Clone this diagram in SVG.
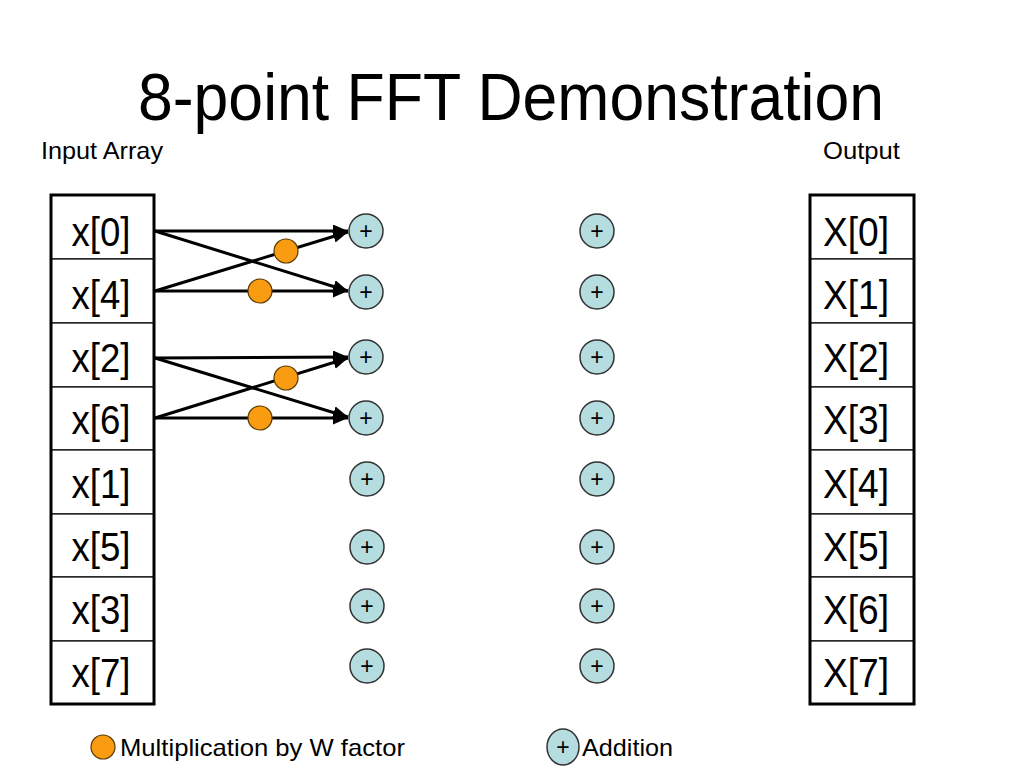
<svg xmlns="http://www.w3.org/2000/svg" width="1024" height="768" viewBox="0 0 1024 768">
<defs>
<style>
text{font-family:"Liberation Sans",Arial,Helvetica,sans-serif;fill:#000}
.cell{fill:#fff;stroke:#000;stroke-width:1.2}
.frame{fill:none;stroke:#000;stroke-width:3}
.ct{font-size:41px;text-anchor:middle}
.add{fill:#b5dde0;stroke:#333;stroke-width:1.5}
.pl{font-size:23px;text-anchor:middle}
.mul{fill:#f99c12;stroke:#5a3a00;stroke-width:1.2}
.wire{stroke:#000;stroke-width:3;fill:none}
.lbl{font-size:24px}
</style>
<marker id="ah" markerUnits="userSpaceOnUse" markerWidth="16" markerHeight="14" refX="15" refY="6.5" orient="auto">
<path d="M0,0 L15,6.5 L0,13 z" fill="#000"/>
</marker>
</defs>
<rect width="1024" height="768" fill="#fff"/>
<text x="511" y="120" font-size="66" text-anchor="middle" textLength="746" lengthAdjust="spacingAndGlyphs">8-point FFT Demonstration</text>
<text class="lbl" x="41" y="159" textLength="122" lengthAdjust="spacingAndGlyphs">Input Array</text>
<text class="lbl" x="823" y="159" textLength="77" lengthAdjust="spacingAndGlyphs">Output</text>

<g id="input">
<rect class="cell" x="51" y="195" width="103" height="64"/>
<rect class="cell" x="51" y="259" width="103" height="64"/>
<rect class="cell" x="51" y="323" width="103" height="64"/>
<rect class="cell" x="51" y="387" width="103" height="63"/>
<rect class="cell" x="51" y="450" width="103" height="64"/>
<rect class="cell" x="51" y="514" width="103" height="63"/>
<rect class="cell" x="51" y="577" width="103" height="64"/>
<rect class="cell" x="51" y="641" width="103" height="63"/>
<rect class="frame" x="51" y="195" width="103" height="509"/>
<text class="ct" x="101" y="246" textLength="59" lengthAdjust="spacingAndGlyphs">x[0]</text>
<text class="ct" x="101" y="309" textLength="59" lengthAdjust="spacingAndGlyphs">x[4]</text>
<text class="ct" x="101" y="372" textLength="59" lengthAdjust="spacingAndGlyphs">x[2]</text>
<text class="ct" x="101" y="434" textLength="59" lengthAdjust="spacingAndGlyphs">x[6]</text>
<text class="ct" x="101" y="498" textLength="59" lengthAdjust="spacingAndGlyphs">x[1]</text>
<text class="ct" x="101" y="561" textLength="59" lengthAdjust="spacingAndGlyphs">x[5]</text>
<text class="ct" x="101" y="624" textLength="59" lengthAdjust="spacingAndGlyphs">x[3]</text>
<text class="ct" x="101" y="687" textLength="59" lengthAdjust="spacingAndGlyphs">x[7]</text>
</g>

<g id="output">
<rect class="cell" x="810" y="195" width="104" height="64"/>
<rect class="cell" x="810" y="259" width="104" height="64"/>
<rect class="cell" x="810" y="323" width="104" height="64"/>
<rect class="cell" x="810" y="387" width="104" height="63"/>
<rect class="cell" x="810" y="450" width="104" height="64"/>
<rect class="cell" x="810" y="514" width="104" height="63"/>
<rect class="cell" x="810" y="577" width="104" height="64"/>
<rect class="cell" x="810" y="641" width="104" height="63"/>
<rect class="frame" x="810" y="195" width="104" height="509"/>
<text class="ct" x="856" y="246" textLength="66" lengthAdjust="spacingAndGlyphs">X[0]</text>
<text class="ct" x="856" y="309" textLength="66" lengthAdjust="spacingAndGlyphs">X[1]</text>
<text class="ct" x="856" y="372" textLength="66" lengthAdjust="spacingAndGlyphs">X[2]</text>
<text class="ct" x="856" y="434" textLength="66" lengthAdjust="spacingAndGlyphs">X[3]</text>
<text class="ct" x="856" y="498" textLength="66" lengthAdjust="spacingAndGlyphs">X[4]</text>
<text class="ct" x="856" y="561" textLength="66" lengthAdjust="spacingAndGlyphs">X[5]</text>
<text class="ct" x="856" y="624" textLength="66" lengthAdjust="spacingAndGlyphs">X[6]</text>
<text class="ct" x="856" y="687" textLength="66" lengthAdjust="spacingAndGlyphs">X[7]</text>
</g>

<g id="connectors">
<line class="wire" x1="155" y1="231" x2="348" y2="231" marker-end="url(#ah)"/>
<line class="wire" x1="155" y1="231" x2="348" y2="291" marker-end="url(#ah)"/>
<line class="wire" x1="155" y1="291" x2="348" y2="232" marker-end="url(#ah)"/>
<line class="wire" x1="155" y1="291" x2="348" y2="291" marker-end="url(#ah)"/>
<line class="wire" x1="155" y1="358" x2="348" y2="357" marker-end="url(#ah)"/>
<line class="wire" x1="155" y1="358" x2="348" y2="417" marker-end="url(#ah)"/>
<line class="wire" x1="155" y1="418" x2="348" y2="358" marker-end="url(#ah)"/>
<line class="wire" x1="155" y1="418" x2="348" y2="418" marker-end="url(#ah)"/>
</g>

<g id="multipliers">
<circle class="mul" cx="286" cy="251" r="12"/>
<circle class="mul" cx="260" cy="291" r="12"/>
<circle class="mul" cx="286" cy="378" r="12"/>
<circle class="mul" cx="260" cy="418" r="12"/>
</g>

<g id="adders-stage1">
<circle class="add" cx="366" cy="231" r="17"/><text class="pl" x="366" y="239">+</text>
<circle class="add" cx="366" cy="292" r="17"/><text class="pl" x="366" y="300">+</text>
<circle class="add" cx="366" cy="357" r="17"/><text class="pl" x="366" y="365">+</text>
<circle class="add" cx="366" cy="418" r="17"/><text class="pl" x="366" y="426">+</text>
<circle class="add" cx="367" cy="479" r="17"/><text class="pl" x="367" y="487">+</text>
<circle class="add" cx="367" cy="547" r="17"/><text class="pl" x="367" y="555">+</text>
<circle class="add" cx="367" cy="606" r="17"/><text class="pl" x="367" y="614">+</text>
<circle class="add" cx="367" cy="666" r="17"/><text class="pl" x="367" y="674">+</text>
</g>

<g id="adders-stage2">
<circle class="add" cx="597" cy="231" r="17"/><text class="pl" x="597" y="239">+</text>
<circle class="add" cx="597" cy="292" r="17"/><text class="pl" x="597" y="300">+</text>
<circle class="add" cx="597" cy="357" r="17"/><text class="pl" x="597" y="365">+</text>
<circle class="add" cx="597" cy="418" r="17"/><text class="pl" x="597" y="426">+</text>
<circle class="add" cx="597" cy="479" r="17"/><text class="pl" x="597" y="487">+</text>
<circle class="add" cx="597" cy="547" r="17"/><text class="pl" x="597" y="555">+</text>
<circle class="add" cx="597" cy="606" r="17"/><text class="pl" x="597" y="614">+</text>
<circle class="add" cx="597" cy="666" r="17"/><text class="pl" x="597" y="674">+</text>
</g>

<g id="legend">
<circle class="mul" cx="103" cy="747" r="12"/>
<text class="lbl" x="120" y="756" textLength="285" lengthAdjust="spacingAndGlyphs">Multiplication by W factor</text>
<ellipse class="add" cx="563" cy="747" rx="16" ry="18"/><text class="pl" x="563" y="755">+</text>
<text class="lbl" x="582" y="756" textLength="91" lengthAdjust="spacingAndGlyphs">Addition</text>
</g>
</svg>
